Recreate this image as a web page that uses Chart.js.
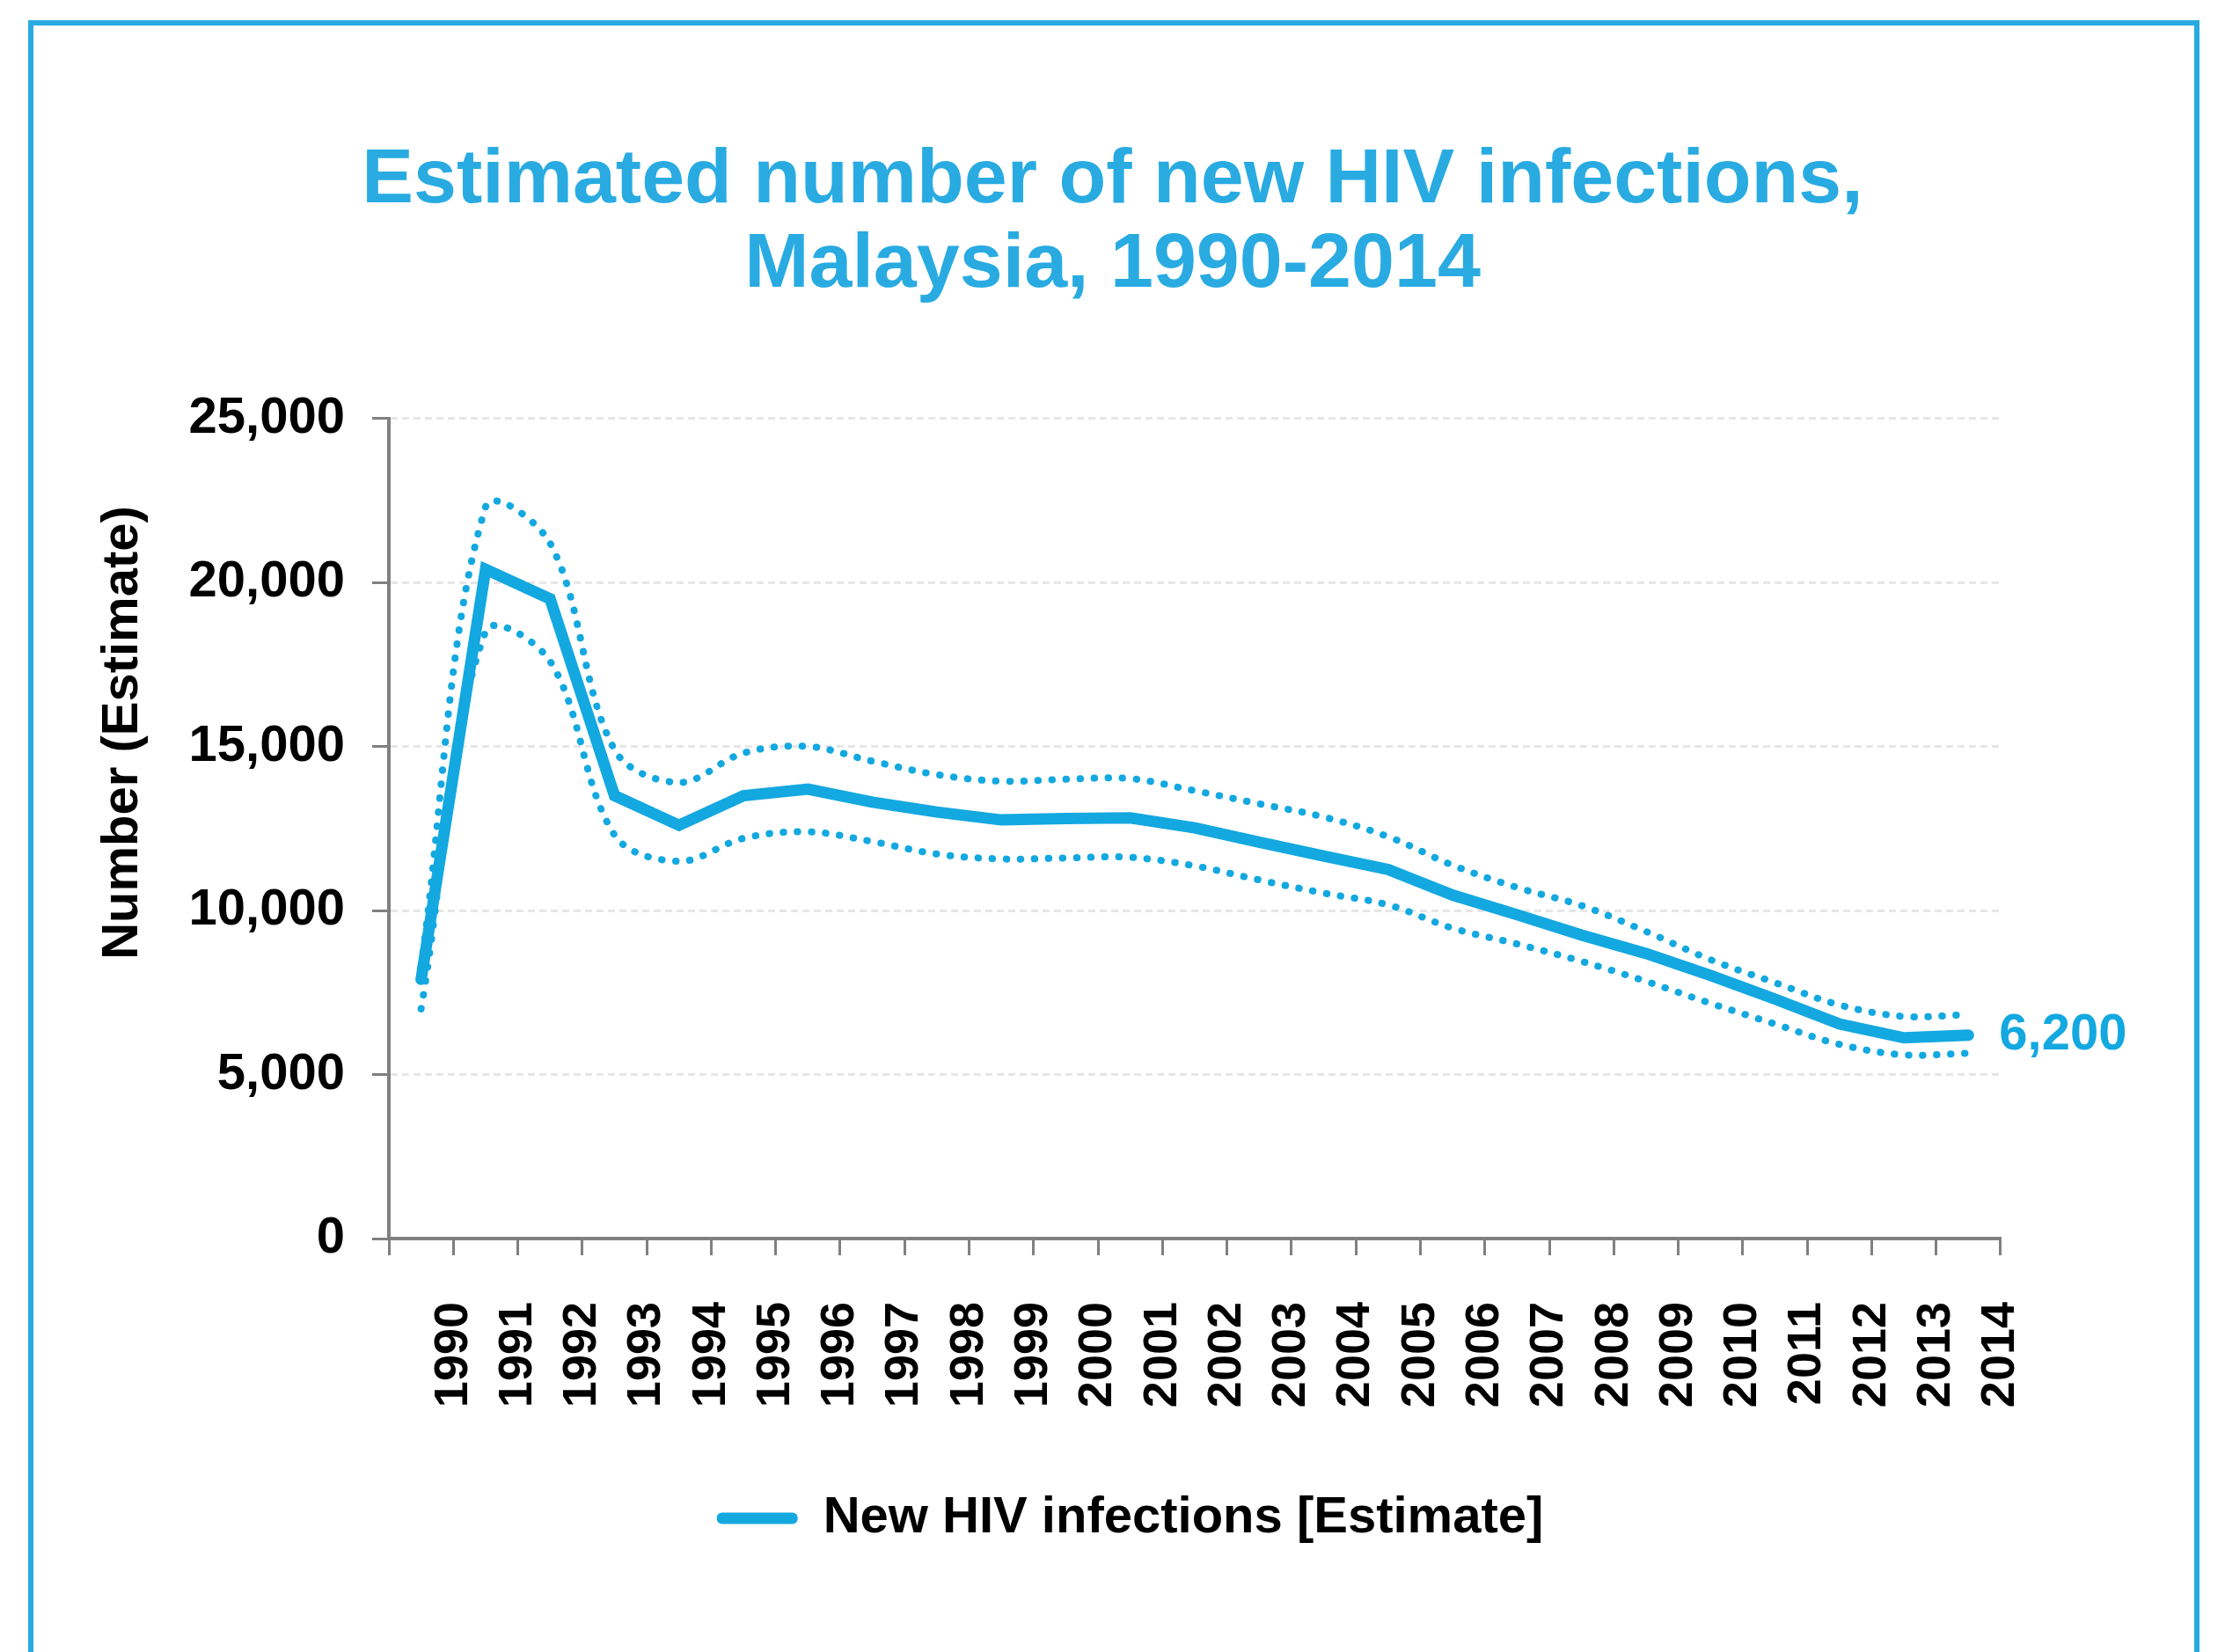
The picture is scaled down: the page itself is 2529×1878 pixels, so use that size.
<!DOCTYPE html>
<html>
<head>
<meta charset="utf-8">
<script src="https://cdn.jsdelivr.net/npm/chart.js@4/dist/chart.umd.min.js"></script>
<style>
  body { margin: 0; background: #fff; overflow: hidden; }
  #wrap { position: relative; width: 2529px; height: 1878px; }
  #frame {
    position: absolute; left: 32px; top: 23px; width: 2456px; height: 1900px;
    border: 6px solid #29abe2; pointer-events: none;
  }
</style>
</head>
<body>
<div id="wrap">
  <canvas id="chart" width="2529" height="1878"></canvas>
  <div id="frame"></div>
</div>
<script>
const years = ['1990', '1991', '1992', '1993', '1994', '1995', '1996', '1997', '1998', '1999',
  '2000', '2001', '2002', '2003', '2004', '2005', '2006', '2007', '2008', '2009',
  '2010', '2011', '2012', '2013', '2014'];

// estimate, then upper / lower bounds (dotted)
const newInfections = [7900, 20400, 19500, 13500, 12600, 13500, 13700, 13300, 13000, 12760,
  12800, 12820, 12520, 12080, 11660, 11250, 10470, 9870, 9250, 8690,
  8020, 7300, 6540, 6120, 6200];
const upperBound = [8300, 22300, 21200, 14900, 13900, 14800, 15000, 14550, 14140, 13940,
  14000, 14020, 13650, 13250, 12850, 12250, 11380, 10700, 10150, 9360,
  8500, 7800, 7120, 6770, 6830];
const lowerBound = [7000, 18500, 17600, 12300, 11500, 12200, 12400, 12100, 11720, 11570,
  11600, 11620, 11360, 10930, 10530, 10170, 9460, 8980, 8450, 7840,
  7170, 6540, 5920, 5600, 5650];

const yTicks = [0, 5000, 10000, 15000, 20000, 25000];
const yTitle = 'Number (Estimate)';

const blue = '#13a8e0';
const titleBlue = '#29abe2';
const axisGrey = '#808080';
const fontFamily = '"Liberation Sans", Arial, sans-serif';

Chart.defaults.font.family = fontFamily;
Chart.defaults.color = '#000';

// value label after the last point + y axis title (sits higher than the axis centre)
const extras = {
  id: 'extras',
  afterLayout(chart) {
    // legend sits a bit right of centre in the original
    chart.legend.left += 20;
    chart.legend.right += 20;
  },
  afterDatasetsDraw(chart) {
    const meta = chart.getDatasetMeta(0);
    const pt = meta.data[meta.data.length - 1];
    const ctx = chart.ctx;
    ctx.save();
    ctx.font = 'bold 58px ' + fontFamily;
    ctx.fillStyle = blue;
    ctx.textAlign = 'left';
    ctx.textBaseline = 'middle';
    ctx.fillText(newInfections[newInfections.length - 1].toLocaleString('en-US'), pt.x + 35, pt.y);

    ctx.fillStyle = '#000';
    ctx.translate(140, 833);
    ctx.rotate(-Math.PI / 2);
    ctx.textAlign = 'center';
    ctx.fillText(yTitle, 0, 0);
    ctx.restore();
  }
};

const dotted = {
  borderColor: blue,
  borderWidth: 8,
  borderDash: [0.5, 15.5],
  borderCapStyle: 'round',
  pointRadius: 0,
  tension: 0.35,
  fill: false
};

new Chart(document.getElementById('chart'), {
  type: 'line',
  data: {
    labels: years,
    datasets: [{
      label: 'New HIV infections [Estimate]',
      data: newInfections,
      borderColor: blue,
      backgroundColor: blue,
      borderWidth: 13,
      borderCapStyle: 'round',
      pointRadius: 0,
      tension: 0
    }, {
      label: 'Upper',
      data: upperBound,
      ...dotted
    }, {
      label: 'Lower',
      data: lowerBound,
      ...dotted
    }]
  },
  options: {
    responsive: false,
    animation: false,
    devicePixelRatio: 1,
    layout: {
      padding: { top: 157, bottom: 113, left: 0, right: 0 }
    },
    plugins: {
      title: {
        display: true,
        text: ['Estimated number of new HIV infections,', 'Malaysia, 1990-2014'],
        color: titleBlue,
        font: { size: 88, weight: 'bold', lineHeight: 1.1 },
        padding: { top: 0, bottom: 125 }
      },
      legend: {
        position: 'bottom',
        labels: {
          boxWidth: 92,
          boxHeight: 13,
          useBorderRadius: true,
          borderRadius: 6,
          padding: 20,
          color: '#000',
          font: { size: 58, weight: 'bold' },
          generateLabels(chart) {
            return Chart.defaults.plugins.legend.labels.generateLabels(chart)
              .filter(it => it.datasetIndex === 0)
              .map(it => Object.assign(it, { lineWidth: 0 }));
          }
        }
      },
      tooltip: { enabled: false }
    },
    scales: {
      x: {
        type: 'category',
        offset: true,
        afterFit(scale) { scale.height = 269; },
        grid: {
          display: true,
          offset: true,
          drawOnChartArea: false,
          drawTicks: true,
          tickLength: 19,
          tickColor: axisGrey,
          tickWidth: 3
        },
        border: { display: true, color: axisGrey, width: 4 },
        ticks: {
          autoSkip: false,
          minRotation: 90,
          maxRotation: 90,
          labelOffset: 37,
          padding: 53,
          color: '#000',
          font: { size: 54, weight: 'bold' }
        }
      },
      y: {
        min: 0,
        max: 25000,
        afterFit(scale) { scale.width = 442; },
        afterBuildTicks(scale) { scale.ticks = yTicks.map(v => ({ value: v })); },
        grid: {
          color: '#e6e6e6',
          lineWidth: 3,
          drawTicks: true,
          tickLength: 19,
          tickColor: axisGrey,
          tickWidth: 3,
          tickBorderDash: []
        },
        border: { display: true, color: axisGrey, width: 4, dash: [8, 5] },
        ticks: {
          padding: 31,
          color: '#000',
          font: { size: 58, weight: 'bold' },
          callback: v => v.toLocaleString('en-US')
        }
      },
      yRight: {
        position: 'right',
        display: true,
        afterFit(scale) { scale.width = 255; },
        grid: { display: false, drawTicks: false },
        border: { display: false },
        ticks: { display: false }
      }
    }
  },
  plugins: [extras]
});
</script>
</body>
</html>
